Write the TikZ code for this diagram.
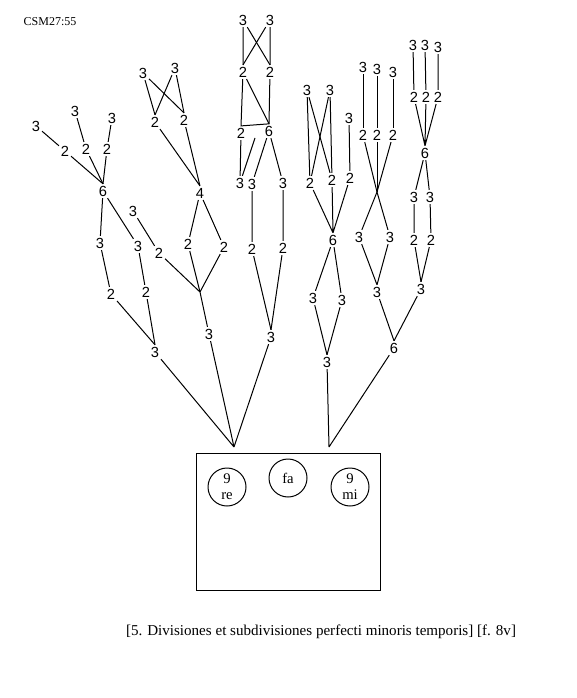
\documentclass[tikz,border=0pt]{standalone}
\usepackage{fontspec}
\setmainfont{Liberation Serif}
\newfontfamily\numfont{Liberation Sans}

\begin{document}
\begin{tikzpicture}[x=0.75pt,y=-0.75pt,line width=0.75pt,
  num/.style={font=\numfont\fontsize{11}{12}\selectfont,inner sep=1.1pt},
  tone/.style={circle,draw,minimum size=28.5pt,inner sep=0pt,align=center,
    font=\fontsize{11}{12}\selectfont}]
\useasboundingbox (0,0) rectangle (576,698);

% first tree, the one with 6
\node[num] (a3l) at (36,126) {3};
\node[num] (a3m) at (75,111) {3};
\node[num] (a3r) at (112,118) {3};
\node[num] (a2l) at (65,151) {2};
\node[num] (a2m) at (86,149) {2};
\node[num] (a2r) at (107,149) {2};
\node[num] (a6) at (103,191) {6};
\node[num] (a3x) at (100,243) {3};
\node[num] (a3y) at (138,246) {3};
\node[num] (a2x) at (111,294) {2};
\node[num] (a2y) at (146,292) {2};
\node[num] (a3b) at (155,352) {3};
\draw (a3l)--(a2l)--(a6.north);
\draw (a3m)--(a2m)--(a6.north);
\draw (a3r)--(a2r)--(a6.north);
\draw (a6)--(a3x)--(a2x)--(a3b.north);
\draw (a6)--(a3y)--(a2y)--(a3b.north);

% second tree, the one with 4
\node[num] (b3l) at (143,73) {3};
\node[num] (b3r) at (175,68) {3};
\node[num] (b2l) at (155,122) {2};
\node[num] (b2r) at (184,120) {2};
\node[num] (b4) at (200,193) {4};
\node[num] (b2x) at (188,244) {2};
\node[num] (b2y) at (224,247) {2};
\node[num] (b3s) at (133,211) {3};
\node[num] (b2s) at (159,253) {2};
\coordinate (bj) at (200,292);
\node[num] (b3b) at (209,334) {3};
\draw (b3l)--(b2l.north) (b3l)--(b2r.north);
\draw (b3r)--(b2l.north) (b3r)--(b2r.north);
\draw (b2l)--(b4.north) (b2r)--(b4.north);
\draw (b4)--(b2x)--(bj);
\draw (b4)--(b2y)--(bj);
\draw (b3s)--(b2s)--(bj)--(b3b);

% third tree, the column in the middle
\node[num] (c3l) at (243,20) {3};
\node[num] (c3r) at (270,20) {3};
\node[num] (c2l) at (243,72) {2};
\node[num] (c2r) at (270,72) {2};
\node[num] (c2) at (241,133) {2};
\node[num] (c6) at (269,131) {6};
\coordinate (c6k) at (255,138);
\node[num] (c3a) at (240,183) {3};
\node[num] (c3b) at (252,184) {3};
\node[num] (c3c) at (283,183) {3};
\node[num] (c2x) at (252,249) {2};
\node[num] (c2y) at (283,248) {2};
\node[num] (c3d) at (271,337) {3};
\draw (c3l)--(c2l.north) (c3l)--(c2r.north);
\draw (c3r)--(c2l.north) (c3r)--(c2r.north);
\draw (c2l)--(c2.north)--(c6.north)--(c2r);
\draw (c2l)--(c6.north);
\draw (c2)--(c3a) (c6k)--(c3a);
\draw (c6)--(c3b)--(c2x)--(c3d.north);
\draw (c6)--(c3c)--(c2y)--(c3d.north);

% fourth tree
\node[num] (d3l) at (307,90) {3};
\node[num] (d3r) at (330,90) {3};
\node[num] (d3s) at (349,118) {3};
\node[num] (d2l) at (310,183) {2};
\node[num] (d2m) at (332,180) {2};
\node[num] (d2r) at (350,178) {2};
\node[num] (d6) at (333,240) {6};
\node[num] (d3x) at (313,298) {3};
\node[num] (d3y) at (342,300) {3};
\node[num] (d3b) at (327,362) {3};
\draw (d3l)--(d2l) (d3l)--(d2m);
\draw (d3r)--(d2l) (d3r)--(d2m);
\draw (d3s)--(d2r);
\draw (d2l)--(d6.north) (d2m)--(d6.north) (d2r)--(d6.north);
\draw (d6)--(d3x)--(d3b.north);
\draw (d6)--(d3y)--(d3b.north);

% fifth tree, the crossing
\node[num] (e3l) at (363,67) {3};
\node[num] (e3m) at (377,69) {3};
\node[num] (e3r) at (393,72) {3};
\node[num] (e2l) at (363,135) {2};
\node[num] (e2m) at (377,135) {2};
\node[num] (e2r) at (393,135) {2};
\coordinate (ex) at (377,192);
\node[num] (e3x) at (359,237) {3};
\node[num] (e3y) at (390,237) {3};
\node[num] (e3b) at (377,292) {3};
\node[num] (e6) at (394,348) {6};
\draw (e3l)--(e2l) (e3m)--(e2m) (e3r)--(e2r);
\draw (e2l)--(ex)--(e3y);
\draw (e2r)--(ex)--(e3x);
\draw (e2m)--(ex);
\draw (e3x)--(e3b.north) (e3y)--(e3b.north);
\draw (e3b)--(e6.north);

% sixth tree, far right
\node[num] (f3l) at (413,45) {3};
\node[num] (f3m) at (425,45) {3};
\node[num] (f3r) at (438,47) {3};
\node[num] (f2l) at (414,97) {2};
\node[num] (f2m) at (426,97) {2};
\node[num] (f2r) at (438,97) {2};
\node[num] (f6) at (425,153) {6};
\node[num] (f3x) at (414,197) {3};
\node[num] (f3y) at (430,197) {3};
\node[num] (f2x) at (414,240) {2};
\node[num] (f2y) at (431,240) {2};
\node[num] (f3b) at (421,289) {3};
\draw (f3l)--(f2l) (f3m)--(f2m) (f3r)--(f2r);
\draw (f2l)--(f6.north) (f2m)--(f6.north) (f2r)--(f6.north);
\draw (f6)--(f3x)--(f2x)--(f3b.north);
\draw (f6)--(f3y)--(f2y)--(f3b.north);
\draw (f3b)--(e6.north);

% the box with the three tones
\node[draw,minimum width=138pt,minimum height=102.75pt,inner sep=0pt] (box) at (288,522) {};
\coordinate (jl) at (234,447);
\coordinate (jr) at (329,447);
\draw (a3b)--(jl) (b3b)--(jl) (c3d)--(jl);
\draw (d3b)--(jr) (e6)--(jr);
\node[tone] (re) at (227,487) {9\\re};
\node[tone] (fa) at (288,478) {fa};
\node[tone] (mi) at (350,487) {9\\mi};

\node[font=\fontsize{9}{10}\selectfont] (csm) at (50,22) {CSM27:55};
\node[font=\fontsize{11.3}{12}\selectfont] (cap) at (321,632)
  {[5. Divisiones et subdivisiones perfecti minoris temporis] [f. 8v]};
\end{tikzpicture}
\end{document}
